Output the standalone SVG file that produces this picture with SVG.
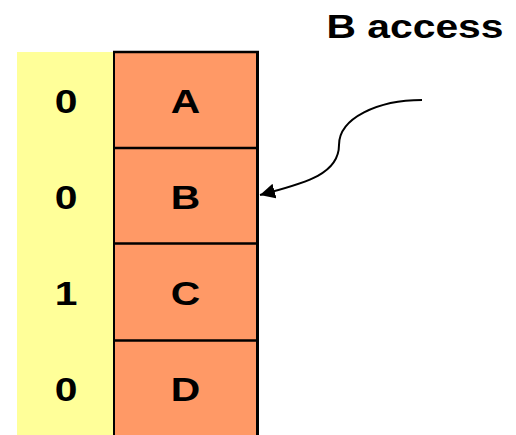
<svg xmlns="http://www.w3.org/2000/svg" width="516" height="435" viewBox="0 0 516 435">
  <style>
    .bit { fill: #FFFF99; }
    .cell { fill: #FF9966; }
    .grid { stroke: #000; fill: none; }
    .lbl { font-family: "Liberation Sans", Arial, sans-serif; font-weight: bold; font-size: 34px; fill: #000; text-anchor: middle; }
    .wire { stroke: #000; stroke-width: 2; fill: none; }
  </style>
  <defs>
    <marker id="arrowhead" viewBox="0 0 10 10" refX="10" refY="5" markerWidth="15" markerHeight="15" markerUnits="userSpaceOnUse" orient="auto">
      <path d="M0,0 L10,5 L0,10 Z" fill="#000"/>
    </marker>
  </defs>

  <rect width="516" height="435" fill="#fff"/>

  <!-- bit column background -->
  <rect class="bit" x="17" y="52" width="97" height="383"/>

  <g id="cell-A">
    <rect class="cell" x="114" y="52" width="143" height="96"/>
    <text class="lbl" transform="translate(66,113) scale(1.2,1)">0</text>
    <text class="lbl" transform="translate(185.5,113) scale(1.2,1)">A</text>
  </g>
  <g id="cell-B">
    <rect class="cell" x="114" y="148" width="143" height="96"/>
    <text class="lbl" transform="translate(66,209) scale(1.2,1)">0</text>
    <text class="lbl" transform="translate(185.5,209) scale(1.2,1)">B</text>
  </g>
  <g id="cell-C">
    <rect class="cell" x="114" y="244" width="143" height="96"/>
    <text class="lbl" transform="translate(66,305) scale(1.2,1)">1</text>
    <text class="lbl" transform="translate(185.5,305) scale(1.2,1)">C</text>
  </g>
  <g id="cell-D">
    <rect class="cell" x="114" y="340" width="143" height="95"/>
    <text class="lbl" transform="translate(66,401) scale(1.2,1)">0</text>
    <text class="lbl" transform="translate(185.5,401) scale(1.2,1)">D</text>
  </g>

  <!-- cell borders -->
  <g id="borders" class="grid">
    <line x1="114" y1="51" x2="114" y2="435" stroke-width="2"/>
    <line x1="257.5" y1="51" x2="257.5" y2="435" stroke-width="3"/>
    <line x1="113" y1="52" x2="259" y2="52" stroke-width="2.5"/>
    <line x1="113" y1="148" x2="259" y2="148" stroke-width="2.5"/>
    <line x1="113" y1="243.5" x2="259" y2="243.5" stroke-width="2.5"/>
    <line x1="113" y1="340.5" x2="259" y2="340.5" stroke-width="2.5"/>
  </g>

  <g id="caption">
    <text class="lbl" transform="translate(415,38) scale(1.2,1)">B access</text>
  </g>

  <g id="connectors">
    <path class="wire" d="M422,100 C378,100 339,118 339,145 C339,176 300,184 260,195" marker-end="url(#arrowhead)"/>
  </g>
</svg>
